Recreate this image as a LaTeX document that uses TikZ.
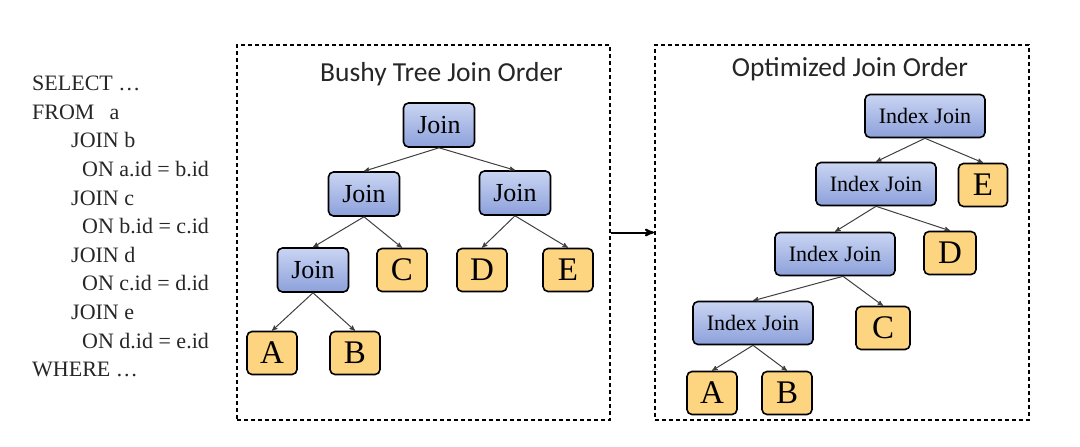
\documentclass[tikz,border=0pt]{standalone}
\usepackage{fontspec}
\setmainfont{Liberation Serif}
\newfontfamily\titlefont{Carlito}
\usetikzlibrary{arrows,positioning}
\definecolor{joinlight}{RGB}{202,213,243}
\definecolor{joindark}{RGB}{140,160,218}
\definecolor{leafcol}{RGB}{253,212,128}
\tikzset{
    %Define standard arrow tip
    >=stealth',
    %Define style for join boxes
    joinbox/.style={
           rectangle,
           rounded corners=5pt,
           draw=black, line width=1.6pt,
           top color=joinlight, bottom color=joindark,
           minimum width=71pt,
           minimum height=44pt,
           inner sep=0pt,
           font=\fontsize{26}{28}\selectfont},
    ijoinbox/.style={
           joinbox,
           minimum width=120pt,
           minimum height=43pt,
           font=\fontsize{22}{24}\selectfont},
    %Define style for table boxes
    leafbox/.style={
           rectangle,
           rounded corners=5pt,
           draw=black, line width=1.6pt,
           fill=leafcol,
           minimum width=50pt,
           minimum height=43pt,
           inner sep=0pt,
           font=\fontsize{33}{35}\selectfont},
    %Define style for dashed panels
    panel/.style={
           rectangle,
           draw=black, line width=2pt,
           dash pattern=on 4pt off 3pt},
    panetitle/.style={
           font=\titlefont\fontsize{27.5}{30}\selectfont,
           text=black!85},
    % Define arrow styles
    imply/.style={
           ->,
           line width=1pt,
           draw=black!75},
    panelarrow/.style={
           -stealth',
           draw=black,
           line width=2pt}
}
\begin{document}
\begin{tikzpicture}[x=1pt,y=-1pt]
 \useasboundingbox (0,0) rectangle (1080,447);
 %query
    \node[anchor=north west, inner sep=0pt, align=left, text=black!85,
          font=\fontsize{22}{28.6}\selectfont] (sql) at (32,76) {%
      SELECT …\\
      FROM\hspace{15pt}a\\
      \hspace*{39pt}JOIN b\\
      \hspace*{50pt}ON a.id = b.id\\
      \hspace*{39pt}JOIN c\\
      \hspace*{50pt}ON b.id = c.id\\
      \hspace*{39pt}JOIN d\\
      \hspace*{50pt}ON c.id = d.id\\
      \hspace*{39pt}JOIN e\\
      \hspace*{50pt}ON d.id = e.id\\
      WHERE …};
 %panels
    \node[panel, minimum width=373pt, minimum height=375pt] (bushy) at (423.5,232.5) {};
    \node[panel, minimum width=374pt, minimum height=375pt] (opt) at (842,232.5) {};
    \node[panetitle, below=15pt of bushy.north, xshift=18pt] (bushytitle) {Bushy Tree Join Order};
    \node[panetitle, below=10pt of opt.north, xshift=8pt] (opttitle) {Optimized Join Order};
 %bushy tree nodes
    \node[joinbox] (broot) at (439,125) {Join};
    \node[joinbox] (bl) at (364,194) {Join};
    \node[joinbox] (br) at (515,193) {Join};
    \node[joinbox] (bll) at (313,270) {Join};
    \node[leafbox] (bc) at (402,270) {C};
    \node[leafbox] (bd) at (482,270) {D};
    \node[leafbox] (be) at (568,270) {E};
    \node[leafbox] (ba) at (272,353) {A};
    \node[leafbox] (bb) at (355,353) {B};
 %optimized tree nodes
    \node[ijoinbox] (oj1) at (925,116) {Index Join};
    \node[ijoinbox] (oj2) at (876,184) {Index Join};
    \node[leafbox, minimum width=49pt] (oe) at (983,185) {E};
    \node[ijoinbox] (oj3) at (835,254) {Index Join};
    \node[leafbox, minimum width=52pt] (od) at (950,253) {D};
    \node[ijoinbox] (oj4) at (753,323) {Index Join};
    \node[leafbox, minimum width=54pt] (oc) at (883,328) {C};
    \node[leafbox] (oa) at (712,393) {A};
    \node[leafbox] (ob) at (787,393) {B};
 %edges
    \draw[imply] (broot.south) -- (bl.north);
    \draw[imply] (broot.south) -- (br.north);
    \draw[imply] (bl.south) -- (bll.north);
    \draw[imply] (bl.south) -- (bc.north);
    \draw[imply] (br.south) -- (bd.north);
    \draw[imply] (br.south) -- (be.north);
    \draw[imply] (bll.south) -- (ba.north);
    \draw[imply] (bll.south) -- (bb.north);
    \draw[imply] (oj1.south) -- (oj2.north);
    \draw[imply] (oj1.south) -- (oe.north);
    \draw[imply] (oj2.south) -- (oj3.north);
    \draw[imply] (oj2.south) -- (od.north);
    \draw[imply] ([xshift=8pt]oj3.south) -- (oj4.north);
    \draw[imply] ([xshift=8pt]oj3.south) -- (oc.north);
    \draw[imply] (oj4.south) -- (oa.north);
    \draw[imply] (oj4.south) -- (ob.north);
    \draw[panelarrow] (bushy.east) -- (opt.west);
\end{tikzpicture}
\end{document}
